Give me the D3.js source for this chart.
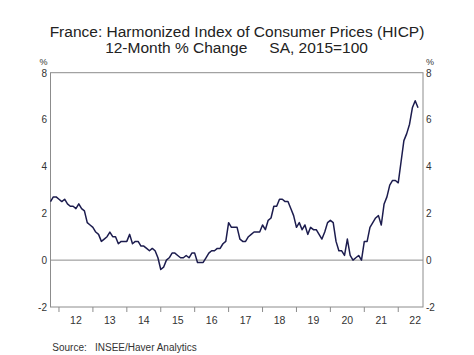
<!DOCTYPE html>
<html>
<head>
<meta charset="utf-8">
<script src="https://cdn.jsdelivr.net/npm/d3@7"></script>
<style>
  html, body { margin: 0; padding: 0; background: #fff; }
  svg { display: block; font-family: "Liberation Sans", Arial, Helvetica, sans-serif; }
</style>
</head>
<body>
<svg id="chart" width="474" height="355"></svg>
<script>
// ---- Data ----
const startYear = 2011;
const startMonth = 9; // October (0-based)
const values = [
  2.5, 2.7, 2.7,                                               // 2011 Oct-Dec
  2.6, 2.5, 2.6, 2.4, 2.3, 2.3, 2.2, 2.4, 2.2, 2.1, 1.6, 1.5,  // 2012
  1.4, 1.2, 1.1, 0.8, 0.9, 1.0, 1.2, 1.0, 1.0, 0.7, 0.8, 0.8,  // 2013
  0.8, 1.1, 0.7, 0.8, 0.8, 0.6, 0.6, 0.5, 0.4, 0.5, 0.4, 0.1,  // 2014
  -0.4, -0.3, 0.0, 0.1, 0.3, 0.3, 0.2, 0.1, 0.1, 0.2, 0.1, 0.3, // 2015
  0.3, -0.1, -0.1, -0.1, 0.1, 0.3, 0.4, 0.4, 0.5, 0.5, 0.7, 0.8, // 2016
  1.6, 1.4, 1.4, 1.4, 0.9, 0.8, 0.8, 1.0, 1.1, 1.2, 1.2, 1.2,  // 2017
  1.5, 1.3, 1.7, 1.8, 2.3, 2.3, 2.6, 2.6, 2.5, 2.5, 2.2, 1.9,  // 2018
  1.4, 1.6, 1.3, 1.5, 1.1, 1.4, 1.3, 1.3, 1.1, 0.9, 1.2, 1.6,  // 2019
  1.7, 1.6, 0.8, 0.4, 0.4, 0.2, 0.9, 0.2, 0.0, 0.1, 0.2, 0.0,  // 2020
  0.8, 0.8, 1.4, 1.6, 1.8, 1.9, 1.5, 2.4, 2.7, 3.2, 3.4, 3.4,  // 2021
  3.3, 4.2, 5.1, 5.4, 5.8, 6.5, 6.8, 6.5                       // 2022 Jan-Aug
];
const yTicks = [-2, 0, 2, 4, 6, 8];
const yearTicks = [2012, 2013, 2014, 2015, 2016, 2017, 2018, 2019, 2020, 2021, 2022];
const yearLabels = ["12", "13", "14", "15", "16", "17", "18", "19", "20", "21", "22"];
const xDomain = [2011.75, 2022.73];
const yDomain = [-2, 8];
const titleLine1 = "France: Harmonized Index of Consumer Prices (HICP)";
const titleLine2a = "12-Month % Change";
const titleLine2b = "SA, 2015=100";
const sourceLabel = "Source:";
const sourceText = "INSEE/Haver Analytics";

// ---- Layout ----
const L = 50.5, R = 423, T = 72.7, B = 307;
const svg = d3.select("#chart");
const x = d3.scaleLinear().domain(xDomain).range([L, R]);
const y = d3.scaleLinear().domain(yDomain).range([B, T]);

const series = values.map((v, i) => {
  const m = startMonth + i;
  return { t: startYear + m / 12, v };
});

const frameColor = "#8c8c8c";
const textColor = "#333";

// Title
svg.append("text").attr("x", 237).attr("y", 37.3).attr("text-anchor", "middle")
  .attr("font-size", 15.5).attr("fill", "#222").text(titleLine1);
svg.append("text").attr("x", 247.3).attr("y", 53.3).attr("text-anchor", "end")
  .attr("font-size", 15.5).attr("fill", "#222").text(titleLine2a);
svg.append("text").attr("x", 269.3).attr("y", 53.3).attr("text-anchor", "start")
  .attr("font-size", 15.5).attr("fill", "#222").text(titleLine2b);

// Zero line
svg.append("line").attr("x1", L).attr("x2", R).attr("y1", y(0)).attr("y2", y(0))
  .attr("stroke", frameColor).attr("stroke-width", 1);

// Frame
svg.append("rect").attr("x", L).attr("y", T).attr("width", R - L).attr("height", B - T)
  .attr("fill", "none").attr("stroke", frameColor).attr("stroke-width", 1);

// Y axis labels (left & right)
const yl = svg.append("g").attr("font-size", 10).attr("fill", textColor);
yTicks.forEach(t => {
  yl.append("text").attr("x", 47).attr("y", y(t) + 3.8)
    .attr("text-anchor", "end").text(String(t));
  yl.append("text").attr("x", 426).attr("y", y(t) + 3.8)
    .attr("text-anchor", "start").text(String(t));
});
yl.append("text").attr("x", 43.5).attr("y", 65).attr("text-anchor", "middle").attr("font-size", 9).text("%");
yl.append("text").attr("x", 430).attr("y", 65).attr("text-anchor", "middle").attr("font-size", 9).text("%");

// X axis ticks and labels
const xg = svg.append("g");
yearTicks.forEach((yr, i) => {
  xg.append("line").attr("x1", x(yr)).attr("x2", x(yr)).attr("y1", B).attr("y2", B + 5)
    .attr("stroke", frameColor).attr("stroke-width", 1);
  xg.append("text").attr("x", x(yr + 0.5)).attr("y", 323.5).attr("text-anchor", "middle")
    .attr("font-size", 10.5).attr("fill", textColor).text(yearLabels[i]);
});

// Line
const line = d3.line().x(d => x(d.t)).y(d => y(d.v));
svg.append("path").datum(series).attr("d", line)
  .attr("fill", "none").attr("stroke", "#1c1c4e").attr("stroke-width", 1.5)
  .attr("stroke-linejoin", "round");

// Source
svg.append("text").attr("x", 52.3).attr("y", 351).attr("font-size", 10)
  .attr("fill", textColor).text(sourceLabel);
svg.append("text").attr("x", 95).attr("y", 351).attr("font-size", 10)
  .attr("fill", textColor).text(sourceText);
</script>
</body>
</html>
